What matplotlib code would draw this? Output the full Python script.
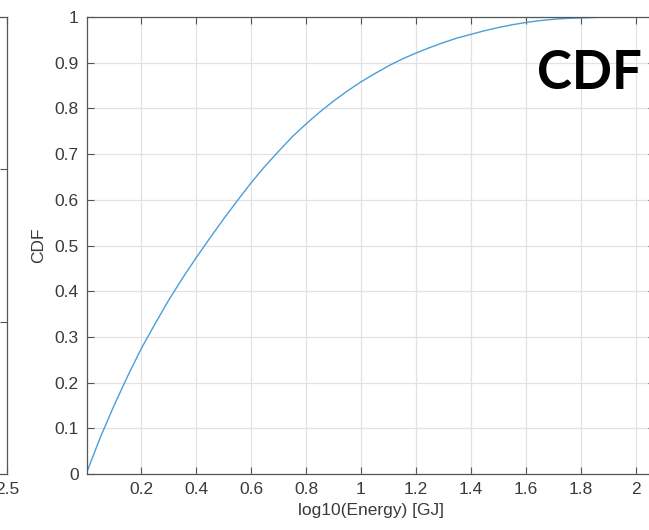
import matplotlib
matplotlib.use("Agg")
import matplotlib.pyplot as plt

# CDF curve
log_energy = [0.0, 0.05, 0.1, 0.15, 0.2, 0.25, 0.3, 0.35, 0.4, 0.45, 0.5, 0.55,
              0.6, 0.65, 0.7, 0.75, 0.8, 0.85, 0.9, 0.95, 1.0, 1.05, 1.1, 1.15,
              1.2, 1.25, 1.3, 1.35, 1.4, 1.45, 1.5, 1.55, 1.6, 1.65, 1.7, 1.75,
              1.8, 1.85, 1.9, 2.0, 2.07]
cdf = [0.0, 0.078, 0.148, 0.213, 0.274, 0.328, 0.380, 0.428, 0.473, 0.516, 0.558, 0.598,
       0.637, 0.673, 0.706, 0.738, 0.766, 0.792, 0.816, 0.838, 0.858, 0.876, 0.893, 0.908,
       0.921, 0.933, 0.944, 0.954, 0.962, 0.970, 0.977, 0.983, 0.988, 0.992, 0.995, 0.997,
       0.998, 0.999, 1.0, 1.0, 1.0]

x_ticks = [0.2, 0.4, 0.6, 0.8, 1.0, 1.2, 1.4, 1.6, 1.8, 2.0]
x_tick_labels = ["0.2", "0.4", "0.6", "0.8", "1", "1.2", "1.4", "1.6", "1.8", "2"]
y_ticks = [0, 0.1, 0.2, 0.3, 0.4, 0.5, 0.6, 0.7, 0.8, 0.9, 1.0]
y_tick_labels = ["0", "0.1", "0.2", "0.3", "0.4", "0.5", "0.6", "0.7", "0.8", "0.9", "1"]

plt.rcParams['font.family'] = ['Liberation Sans', 'DejaVu Sans']

W, H = 649, 530
fig = plt.figure(figsize=(W / 100, H / 100), dpi=100)

spine_c = '#555555'
text_c = '#3a3a3a'
grid_c = '#e2e2e2'
fs = 12.5

def px_rect(left, top, right, bottom):
    return [left / W, 1 - bottom / H, (right - left) / W, (bottom - top) / H]

def style(ax):
    for s in ax.spines.values():
        s.set_color(spine_c)
        s.set_linewidth(0.9)
    ax.tick_params(direction='in', length=5, width=0.8, color=spine_c,
                   labelcolor=text_c, labelsize=fs, pad=6,
                   top=True, right=True)

# partial neighbouring axes at the far left
ax0 = fig.add_axes(px_rect(-300, 17, 7, 474))
ax0.set_xlim(0, 2.5)
ax0.set_ylim(0, 3)
ax0.set_xticks([2.5])
ax0.set_xticklabels(["2.5"])
ax0.set_yticks([1, 2])
ax0.set_yticklabels([])
style(ax0)

# main axes
ax = fig.add_axes(px_rect(87, 17, 655, 474))
ax.plot(log_energy, cdf, color='#4a9fd8', lw=1.0)
ax.set_xlim(0.003, 2.07)
ax.set_ylim(0, 1)
ax.set_xticks(x_ticks)
ax.set_xticklabels(x_tick_labels)
ax.set_yticks(y_ticks)
ax.set_yticklabels(y_tick_labels)
ax.grid(True, color=grid_c, lw=0.9)
ax.set_axisbelow(True)
style(ax)
ax.set_xlabel("log10(Energy) [GJ]", fontsize=fs, color=text_c, labelpad=4)
ax.set_ylabel("CDF", fontsize=fs, color=text_c, labelpad=6)

fig.text(537 / W, 1 - 89 / H, "CDF", fontsize=38, fontweight='bold',
         family=['Lato', 'DejaVu Sans'], color='black', ha='left', va='baseline')

fig.savefig("out.png", dpi=100)
